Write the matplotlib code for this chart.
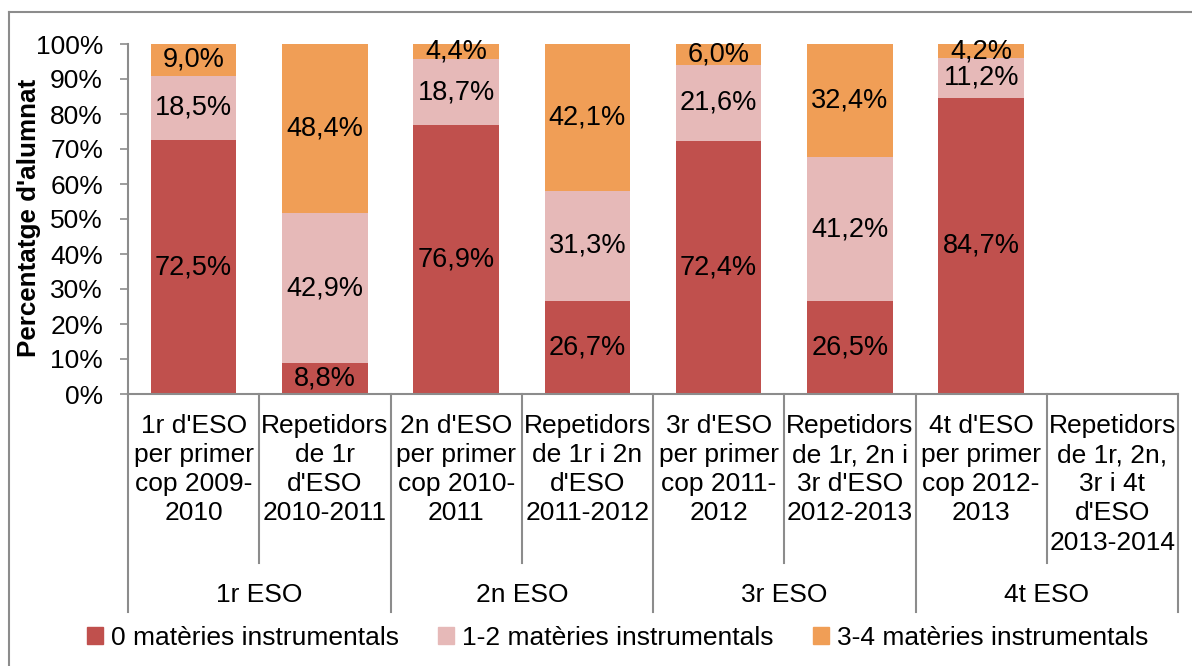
import matplotlib
matplotlib.use("Agg")
import matplotlib.pyplot as plt
from matplotlib.lines import Line2D
from matplotlib.patches import Patch
import numpy as np

plt.rcParams['font.family'] = ['Liberation Sans', 'DejaVu Sans']

# data
categories = [
    "1r d'ESO\nper primer\ncop 2009-\n2010",
    "Repetidors\nde 1r\nd'ESO\n2010-2011",
    "2n d'ESO\nper primer\ncop 2010-\n2011",
    "Repetidors\nde 1r i 2n\nd'ESO\n2011-2012",
    "3r d'ESO\nper primer\ncop 2011-\n2012",
    "Repetidors\nde 1r, 2n i\n3r d'ESO\n2012-2013",
    "4t d'ESO\nper primer\ncop 2012-\n2013",
    "Repetidors\nde 1r, 2n,\n3r i 4t\nd'ESO\n2013-2014",
]
groups = ["1r ESO", "2n ESO", "3r ESO", "4t ESO"]
series_names = ["0 matèries instrumentals", "1-2 matèries instrumentals",
                "3-4 matèries instrumentals"]
mat_0 = [72.5, 8.8, 76.9, 26.7, 72.4, 26.5, 84.7, 0]
mat_12 = [18.5, 42.9, 18.7, 31.3, 21.6, 41.2, 11.2, 0]
mat_34 = [9.0, 48.4, 4.4, 42.1, 6.0, 32.4, 4.2, 0]

colors = ["#C0504D", "#E6B9B8", "#F09E56"]
grey = "#8C8C8C"
W, H = 1192, 666
FS = 19

fig = plt.figure(figsize=(W / 100, H / 100), dpi=100)
ax = fig.add_axes([128 / W, 1 - 394 / H, 1050 / W, 350 / H])

x = np.arange(len(categories))
bottom = np.zeros(len(categories))
for vals, col in zip([mat_0, mat_12, mat_34], colors):
    vals = np.array(vals)
    ax.bar(x, vals, 0.65, bottom=bottom, color=col, linewidth=0)
    for xi, b, v in zip(x, bottom, vals):
        if v > 0:
            mid = min(b + v / 2, (b + 100) / 2)
            ax.text(xi, mid, f"{v:.1f}%".replace(".", ","), ha="center",
                    va="center", fontsize=19.5, color="black")
    bottom += vals

ax.set_xlim(-0.5, len(categories) - 0.5)
ax.set_ylim(0, 100)
ax.set_yticks(np.arange(0, 101, 10))
ax.set_yticklabels([f"{v}%" for v in range(0, 101, 10)], fontsize=FS)
ax.tick_params(axis="y", length=6, width=1.2, color=grey, pad=12)
ax.set_xticks([])
for s in ["top", "right"]:
    ax.spines[s].set_visible(False)
for s in ["left", "bottom"]:
    ax.spines[s].set_color(grey)
    ax.spines[s].set_linewidth(1.5)

# category and group labels below the axis
tr = ax.get_xaxis_transform()
px = 1 / 350
for i, lab in enumerate(categories):
    ax.text(i, -(414 - 394) * px, lab, transform=tr, ha="center", va="top",
            fontsize=FS, linespacing=1.27)
for g, lab in enumerate(groups):
    ax.text(2 * g + 0.5, -(595 - 394) * px, lab, transform=tr, ha="center",
            va="center", fontsize=FS)
for k in range(len(categories) + 1):
    depth = 612 if k % 2 == 0 else 563
    ax.add_line(Line2D([k - 0.5, k - 0.5], [0, -(depth - 394) * px],
                       transform=tr, color=grey, lw=1.5, clip_on=False))

fig.text(29 / W, 1 - 218 / H, "Percentatge d'alumnat", rotation=90,
         ha="center", va="center", fontsize=18.7, fontweight="bold")

handles = [Patch(color=c) for c in colors]
fig.legend(handles, series_names, loc="center", bbox_to_anchor=(0.518, 1 - 638 / H),
           ncol=3, frameon=False, fontsize=FS, handlelength=0.6, handleheight=0.6,
           handletextpad=0.3, columnspacing=1.5)

# outer frame (top and left edges visible)
fig.add_artist(Line2D([9 / W, 1], [1 - 12 / H, 1 - 12 / H], transform=fig.transFigure,
                      color=grey, lw=1.5))
fig.add_artist(Line2D([9 / W, 9 / W], [0, 1 - 12 / H], transform=fig.transFigure,
                      color=grey, lw=1.5))

fig.savefig("out.png", dpi=100)
